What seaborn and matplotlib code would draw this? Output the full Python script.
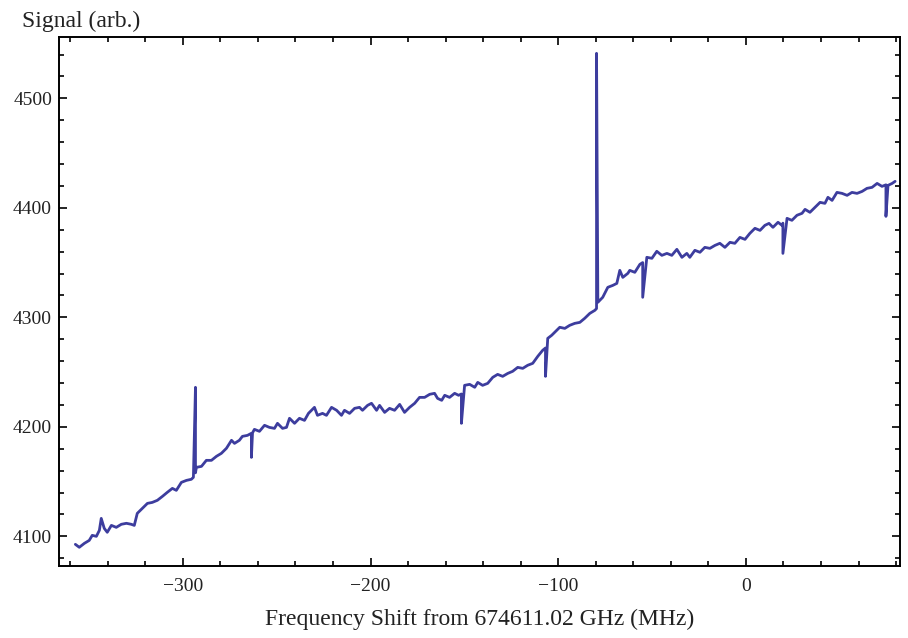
import numpy as np
import pandas as pd
import matplotlib
matplotlib.use("Agg")
import matplotlib.pyplot as plt
from matplotlib.ticker import MultipleLocator
import seaborn as sns

# frequency shift (MHz) and signal (arb.), left to right
freq = [
    -357.3, -355.2, -352.5, -349.9, -348.3, -346.1, -344.5, -343.5, -341.9, -340.3,
    -338.1, -335.5, -332.8, -330.1, -327.5, -325.9, -324.3, -321.6, -318.9, -316.3,
    -313.6, -310.9, -308.3, -305.6, -303.5, -300.8, -298.1, -295.5, -294.4, -293.3,
    -293.3, -292.8, -290.1, -287.5, -284.8, -282.1, -279.5, -276.8, -274.1, -272.5,
    -269.9, -268.3, -265.6, -263.5, -263.5, -262.9, -261.9, -259.2, -256.5, -253.9,
    -251.2, -249.6, -246.9, -244.8, -243.2, -240.5, -237.9, -235.2, -233.1, -229.9,
    -228.3, -225.6, -223.5, -220.8, -218.1, -215.5, -213.9, -211.2, -208.5, -205.9,
    -204.3, -201.6, -199.5, -196.8, -195.2, -192.5, -189.9, -187.2, -184.5, -181.9,
    -179.2, -176.5, -173.9, -171.2, -168.5, -165.9, -164.3, -162.1, -160.5, -157.9,
    -155.2, -153.1, -151.6, -151.6, -149.9, -147.2, -144.5, -142.9, -140.3, -137.6,
    -134.9, -132.3, -129.6, -126.9, -124.3, -121.6, -118.9, -116.3, -113.6, -110.9,
    -108.3, -106.8, -106.8, -105.6, -103.5, -100.8, -99.2, -96.5, -93.9, -91.2,
    -88.5, -85.9, -83.2, -80.5, -79.6, -79.6, -78.9, -76.3, -73.6, -70.9,
    -68.8, -67.2, -65.6, -62.9, -61.9, -59.2, -56.5, -55.0, -55.0, -52.8,
    -50.1, -47.5, -44.8, -42.1, -39.5, -36.8, -34.1, -31.5, -29.9, -27.2,
    -24.5, -21.9, -19.2, -16.5, -13.9, -11.2, -8.5, -5.9, -3.2, -0.5,
    2.1, 4.8, 7.5, 10.1, 12.3, 14.4, 17.1, 19.2, 19.7, 19.7,
    21.9, 24.5, 27.2, 29.9, 31.5, 34.1, 36.8, 39.5, 42.1, 43.7,
    45.9, 48.5, 51.2, 53.9, 56.5, 59.2, 61.9, 64.5, 67.2, 69.9,
    72.5, 74.6, 74.6, 75.7, 77.9, 79.5,
]
signal = [
    4092.7, 4090.0, 4093.6, 4096.3, 4100.9, 4100.0, 4105.5, 4116.4, 4107.3, 4103.7,
    4110.0, 4108.2, 4111.0, 4111.9, 4111.0, 4110.0, 4121.0, 4125.6, 4130.1, 4131.0,
    4132.9, 4136.5, 4140.2, 4143.8, 4142.0, 4149.3, 4151.1, 4152.1, 4153.9, 4236.1,
    4158.0, 4163.0, 4163.9, 4169.4, 4169.4, 4173.1, 4175.8, 4180.4, 4187.7, 4184.9,
    4187.7, 4191.3, 4192.2, 4194.1, 4172.1, 4194.5, 4197.7, 4195.9, 4201.4, 4199.5,
    4198.6, 4203.2, 4198.6, 4199.5, 4207.8, 4203.2, 4207.8, 4205.9, 4212.3, 4217.8,
    4210.5, 4212.3, 4210.5, 4217.8, 4215.1, 4210.5, 4215.1, 4212.3, 4216.9, 4217.8,
    4215.1, 4219.6, 4221.5, 4215.1, 4219.6, 4213.2, 4216.9, 4215.1, 4220.5, 4213.2,
    4217.8, 4221.5, 4226.9, 4226.9, 4229.7, 4230.6, 4226.0, 4224.2, 4228.8, 4226.9,
    4230.6, 4228.8, 4230.0, 4203.2, 4237.9, 4238.8, 4236.1, 4240.6, 4237.9, 4239.7,
    4245.2, 4247.9, 4246.1, 4248.8, 4250.7, 4254.3, 4253.4, 4256.2, 4258.0, 4264.4,
    4269.9, 4272.0, 4246.1, 4280.8, 4283.6, 4288.1, 4290.9, 4289.9, 4292.7, 4294.5,
    4295.4, 4299.1, 4303.6, 4306.4, 4308.0, 4541.1, 4313.7, 4318.3, 4327.4, 4329.2,
    4331.0, 4342.9, 4336.5, 4340.2, 4342.9, 4341.1, 4348.4, 4350.0, 4318.3, 4354.8,
    4353.9, 4360.3, 4356.6, 4358.4, 4356.6, 4362.1, 4354.8, 4358.4, 4354.8, 4361.2,
    4359.4, 4363.9, 4363.0, 4365.7, 4367.6, 4363.9, 4368.5, 4367.6, 4373.0, 4371.2,
    4376.7, 4381.3, 4379.4, 4384.0, 4385.8, 4382.2, 4386.8, 4384.0, 4386.0, 4358.4,
    4390.4, 4388.6, 4393.2, 4395.0, 4398.6, 4395.9, 4400.5, 4405.0, 4404.1, 4409.6,
    4406.8, 4414.1, 4413.2, 4411.4, 4414.1, 4413.2, 4415.0, 4417.8, 4418.7, 4422.3,
    4419.6, 4421.0, 4392.2, 4420.5, 4422.3, 4424.2,
]

x_major = [-300, -200, -100, 0]
y_major = [4100, 4200, 4300, 4400, 4500]
x_labels = ["\u2212300", "\u2212200", "\u2212100", "0"]

df = pd.DataFrame({"freq": freq, "signal": signal})

sns.set_style("ticks")
plt.rcParams["font.family"] = ["Liberation Serif", "DejaVu Serif"]

fig = plt.figure(figsize=(9.08, 6.38), dpi=100)
ax = fig.add_axes([0.065, 0.113, 0.926, 0.829])

sns.lineplot(data=df, x="freq", y="signal", sort=False, estimator=None,
             color="#3d3d9e", linewidth=2.0, ax=ax)

ax.set_xlim(-366, 82)
ax.set_ylim(4073, 4556)
ax.set_xticks(x_major)
ax.set_xticklabels(x_labels)
ax.set_yticks(y_major)
ax.xaxis.set_minor_locator(MultipleLocator(20))
ax.yaxis.set_minor_locator(MultipleLocator(20))
ax.tick_params(which="both", direction="in", top=True, right=True,
               width=1.2, colors="black", labelcolor="#222222", labelsize=14)
ax.tick_params(which="major", length=6)
ax.tick_params(which="minor", length=3.5)
ax.tick_params(axis="x", which="major", pad=9)
ax.tick_params(axis="y", which="major", pad=5)
for s in ax.spines.values():
    s.set_visible(True)
    s.set_linewidth(1.4)
    s.set_color("black")

ax.set_xlabel("Frequency Shift from 674611.02 GHz (MHz)", fontsize=17,
              color="#222222", labelpad=10)
ax.set_ylabel("")
fig.text(0.024, 0.966, "Signal (arb.)", fontsize=17, color="#222222",
         ha="left", va="center")

fig.savefig("out.png", dpi=100)
